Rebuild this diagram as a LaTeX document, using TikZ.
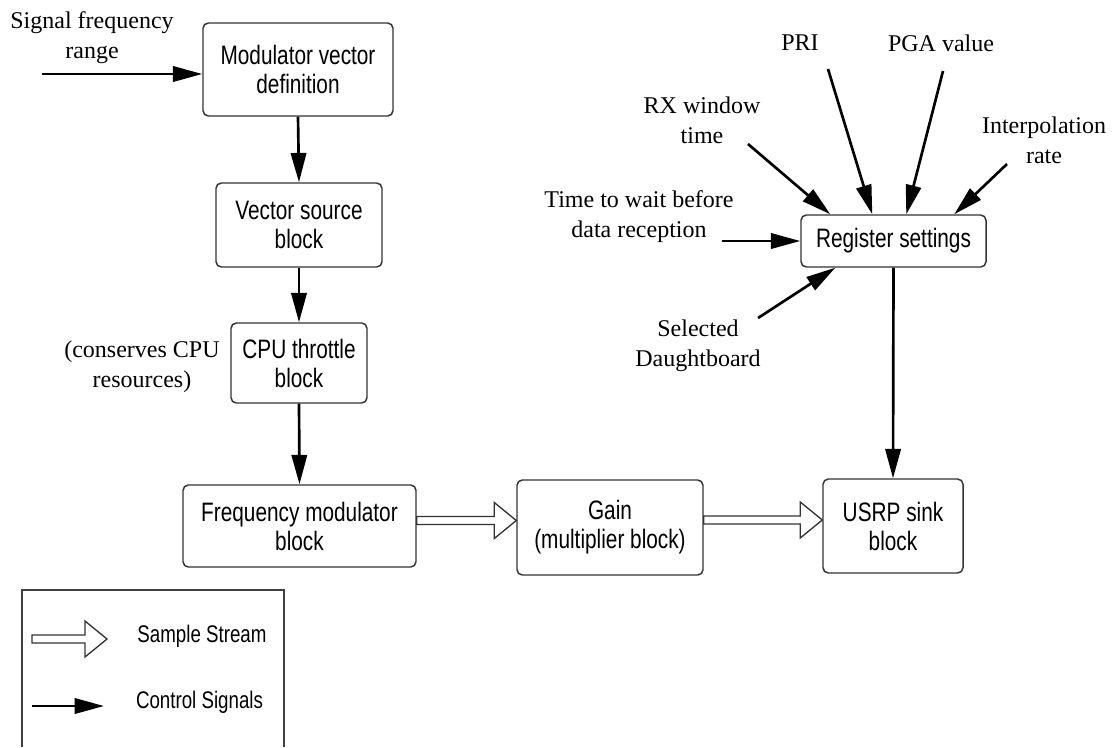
\documentclass[tikz,border=0pt]{standalone}
\usepackage{fontspec}
\setmainfont{Liberation Serif}
\newfontfamily\boxfont[FakeStretch=0.78]{Liberation Sans}
\usetikzlibrary{arrows.meta,calc,positioning}

\tikzset{
  block/.style={draw=black!80, line width=1.1pt, rounded corners=4pt, align=center,
    inner sep=0pt, font=\boxfont\fontsize{20}{21.75}\selectfont},
  note/.style={align=center, inner sep=0pt, font=\fontsize{18}{22.5}\selectfont},
  legendtext/.style={inner sep=0pt, font=\boxfont\fontsize{18}{20}\selectfont},
  ctrl/.style={line width=2pt, -{Triangle[length=22pt,width=11.5pt]}},
  stream/.style={draw=black!80, line width=1pt, fill=white, line join=miter},
}

% hollow arrow for the sample stream, #2 -> #3, raised by #1
\newcommand{\streamarrow}[3][0]{%
  \draw[stream] ($(#2 |- #3)+(0,-4-#1)$) -- ($(#3)+(-22,-4-#1)$) -- ($(#3)+(-22,-18-#1)$) -- ($(#3)+(0,-#1)$)
    -- ($(#3)+(-22,18-#1)$) -- ($(#3)+(-22,4-#1)$) -- ($(#2 |- #3)+(0,4-#1)$) -- cycle;}

\begin{document}
\begin{tikzpicture}[x=0.75pt,y=0.75pt,yscale=-1,xscale=1]
\useasboundingbox (0,0) rectangle (1112,747);

% Blocks
\node [block, minimum width=142.5pt, minimum height=69.75pt] (mod) at (298,69.5) {Modulator vector\\definition};
\node [block, minimum width=124.5pt, minimum height=63pt] (vec) at (299,225) {Vector source\\block};
\node [block, minimum width=102pt, minimum height=60pt] (cpu) at (299,363) {CPU throttle\\block};
\node [block, minimum width=174.75pt, minimum height=61.5pt] (freq) at (299.5,526) {Frequency modulator\\block};
\node [block, minimum width=139.5pt, minimum height=71.25pt] (gain) at (610,527.5) {Gain\\(multiplier block)};
\node [block, minimum width=105pt, minimum height=70.5pt] (usrp) at (893,526) {USRP sink\\block};
\node [block, minimum width=138.75pt, minimum height=39pt] (reg) at (893.5,241) {Register settings};

% Text Nodes
\node [note] (sigfreq) at (92,38) {Signal frequency\\range};
\node [note] (conserve) at (142,367) {(conserves CPU\\resources)};
\node [note] (pri) at (800,43) {PRI};
\node [note] (pga) at (941,43) {PGA value};
\node [note] (rxwin) at (702,120) {RX window\\time};
\node [note] (interp) at (1044,140) {Interpolation\\rate};
\node [note] (wait) at (639,217) {Time to wait before\\data reception};
\node [note] (dboard) at (698,346) {Selected\\Daughtboard};

% free ends of the control inputs
\coordinate (sigstart) at (42,74);
\coordinate (rxstart) at (748,144);
\coordinate (pristart) at (828,69);
\coordinate (pgastart) at (943,71);
\coordinate (interpstart) at (1007,164);
\coordinate (waitstart) at (722,241);
\coordinate (dboardstart) at (758,318);

% Control signals
\draw [ctrl] (sigstart) -- (sigstart -| mod.west);
\draw [ctrl] (mod.south) -- (vec.north);
\draw [ctrl] (vec.south) -- (cpu.north);
\draw [ctrl] (cpu.south) -- (freq.north);
\draw [ctrl] (reg.south) -- (usrp.north);
\draw [ctrl] (rxstart) -- ($(reg.north west)+(30,0)$);
\draw [ctrl] (pristart) -- ($(reg.north west)+(72,0)$);
\draw [ctrl] (pgastart) -- ($(reg.north west)+(106,0)$);
\draw [ctrl] (interpstart) -- ($(reg.north west)+(154,0)$);
\draw [ctrl] (waitstart) -- (waitstart -| reg.west);
\draw [ctrl] (dboardstart) -- ($(reg.south west)+(35,0)$);

% Sample stream
\streamarrow[7]{freq.east}{gain.west}
\streamarrow[6]{gain.east}{usrp.west}

% Legend
\draw [draw=black!75, line width=0.8pt] (22,747) -- (22,590) -- (284,590) -- (284,747);
\coordinate (lsa) at (32,639);
\coordinate (lsb) at (107,639);
\streamarrow{lsa}{lsb}
\node [legendtext] (lstream) at (202,636) {Sample Stream};
\coordinate (lca) at (32,706);
\coordinate (lcb) at (104,706);
\draw [ctrl] (lca) -- (lcb);
\node [legendtext] (lctrl) at (199.5,702) {Control Signals};

\end{tikzpicture}
\end{document}
